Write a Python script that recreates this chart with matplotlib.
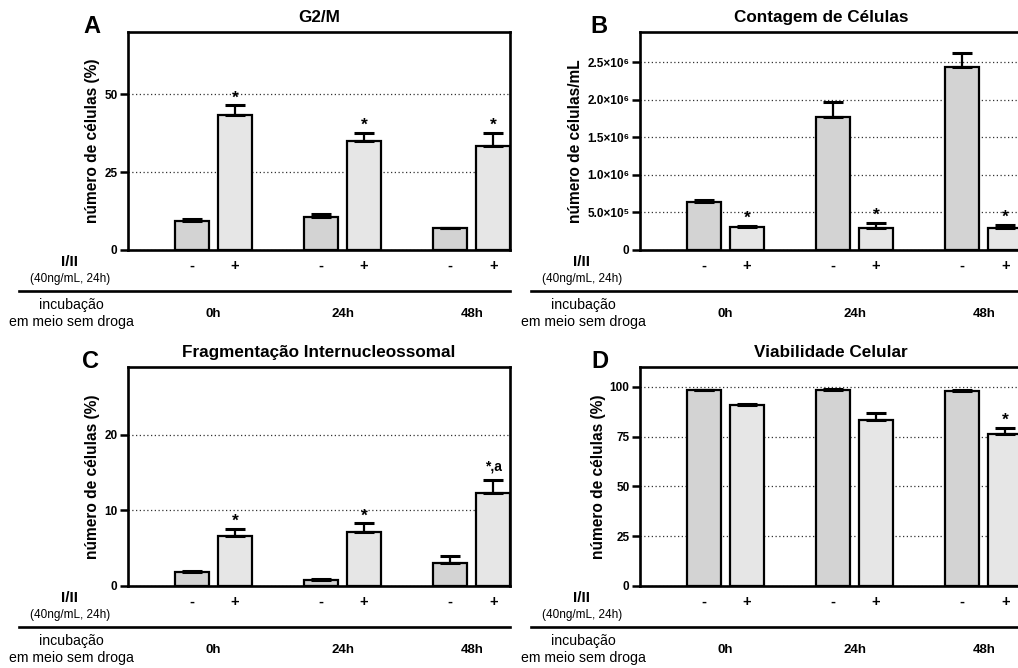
import matplotlib
matplotlib.use('Agg')
import matplotlib.pyplot as plt
import matplotlib.transforms as mtransforms

plt.rcParams['font.family'] = ['Liberation Sans', 'DejaVu Sans']

# groups and treatment labels
grupos = ['0h', '24h', '48h']
tratamento = ['-', '+']

# A - G2/M (%)
g2m_ctrl = [9.4, 10.6, 7.0]
g2m_ctrl_err = [0.6, 0.9, 0.2]
g2m_trat = [43.4, 35.0, 33.3]
g2m_trat_err = [3.0, 2.5, 4.3]
g2m_sig = ['*', '*', '*']

# B - cell count (cells/mL)
cont_ctrl = [0.634e6, 1.765e6, 2.433e6]
cont_ctrl_err = [0.035e6, 0.205e6, 0.187e6]
cont_trat = [0.306e6, 0.293e6, 0.288e6]
cont_trat_err = [0.017e6, 0.067e6, 0.042e6]
cont_sig = ['*', '*', '*']

# C - internucleosomal fragmentation (%)
frag_ctrl = [1.8, 0.85, 3.1]
frag_ctrl_err = [0.15, 0.05, 0.9]
frag_trat = [6.6, 7.2, 12.3]
frag_trat_err = [0.95, 1.1, 1.7]
frag_sig = ['*', '*', '*,a']

# D - viability (%)
viab_ctrl = [98.4, 98.6, 98.0]
viab_ctrl_err = [0.2, 0.2, 0.2]
viab_trat = [91.0, 83.4, 76.3]
viab_trat_err = [0.4, 3.3, 3.2]
viab_sig = ['', '', '*']

W, H = 1018, 668
fig = plt.figure(figsize=(W / 100, H / 100), dpi=100)


def px_axes(left, top, right, bottom):
    return fig.add_axes([left / W, 1 - bottom / H, (right - left) / W, (bottom - top) / H])


def painel(ax, letra, letra_x, titulo, ctrl, ctrl_err, trat, trat_err, sig,
           ylim, yticks, yticklabels, ylabel, title_x=0.5, tick_fs=8.5):
    xc = [3 * i for i in range(len(grupos))]
    xt = [3 * i + 1 for i in range(len(grupos))]
    ekw = dict(elinewidth=1.6, capthick=2.2, capsize=7, ecolor='black')
    ax.bar(xc, ctrl, width=0.8, color='#d3d3d3', edgecolor='black', linewidth=1.6,
           yerr=[[0] * len(ctrl), ctrl_err], error_kw=ekw, zorder=3)
    ax.bar(xt, trat, width=0.8, color='#e6e6e6', edgecolor='black', linewidth=1.6,
           yerr=[[0] * len(trat), trat_err], error_kw=ekw, zorder=3)
    for x, v, e, s in zip(xt, trat, trat_err, sig):
        if len(s) == 1:
            ax.annotate(s, xy=(x, v + e), xytext=(0, 0), textcoords='offset points',
                        ha='center', va='bottom', fontsize=12.5, fontweight='bold')
        elif s:
            ax.annotate(s, xy=(x, v + e), xytext=(0, 5), textcoords='offset points',
                        ha='center', va='bottom', fontsize=10, fontweight='bold')
    ax.set_xlim(-1.49, 7.39)
    ax.set_ylim(*ylim)
    ax.set_yticks(yticks)
    ax.set_yticklabels(yticklabels, fontweight='bold', fontsize=tick_fs)
    ax.set_xticks([])
    ax.tick_params(axis='y', length=6, width=1.8, pad=1.5, direction='out')
    for sp in ax.spines.values():
        sp.set_linewidth(1.9)
    ax.yaxis.grid(True, linestyle=(0, (1, 2)), color='#333333', linewidth=0.9)
    ax.set_axisbelow(True)
    ax.set_ylabel(ylabel, fontsize=11.2, fontweight='bold', labelpad=3)
    ax.set_title(titulo, fontsize=12.3, fontweight='bold', x=title_x, pad=7)
    ax.text(letra_x, 0.995, letra, transform=ax.transAxes, fontsize=17,
            fontweight='bold', ha='center', va='baseline')

    hpx = ax.get_position().height * H
    def fy(py):
        return -py / hpx
    trans = mtransforms.blended_transform_factory(ax.transData, ax.transAxes)
    for x in xc:
        ax.text(x, fy(16), tratamento[0], transform=trans, ha='center', va='center',
                fontsize=10.5, fontweight='bold')
    for x in xt:
        ax.text(x, fy(16), tratamento[1], transform=trans, ha='center', va='center',
                fontsize=10.5, fontweight='bold')
    for x, g in zip(xc, grupos):
        ax.text(x + 0.5, fy(64), g, transform=trans, ha='center', va='center',
                fontsize=9.5, fontweight='bold')
    ax.text(-0.152, fy(12), 'I/II', transform=ax.transAxes, ha='center', va='center',
            fontsize=11, fontweight='bold')
    ax.text(-0.152, fy(29), '(40ng/mL, 24h)', transform=ax.transAxes, ha='center',
            va='center', fontsize=8.5)
    ax.text(-0.148, fy(55), 'incubação', transform=ax.transAxes, ha='center',
            va='center', fontsize=10.2)
    ax.text(-0.148, fy(72), 'em meio sem droga', transform=ax.transAxes, ha='center',
            va='center', fontsize=10.2)
    ax.plot([-0.285, 1.0], [fy(41), fy(41)], transform=ax.transAxes, color='black',
            linewidth=1.9, clip_on=False)


axA = px_axes(128, 32, 510, 250)
axB = px_axes(640, 32, 1022, 250)
axC = px_axes(128, 367, 510, 586)
axD = px_axes(640, 367, 1022, 586)

painel(axA, 'A', -0.094, 'G2/M', g2m_ctrl, g2m_ctrl_err, g2m_trat, g2m_trat_err,
       g2m_sig, (0, 70), [0, 25, 50], ['0', '25', '50'], 'número de células (%)')
painel(axB, 'B', -0.107, 'Contagem de Células', cont_ctrl, cont_ctrl_err, cont_trat,
       cont_trat_err, cont_sig, (0, 2.9e6),
       [0, 0.5e6, 1.0e6, 1.5e6, 2.0e6, 2.5e6],
       ['0', '5.0×10⁵', '1.0×10⁶', '1.5×10⁶', '2.0×10⁶', '2.5×10⁶'],
       'número de células/mL', title_x=0.475, tick_fs=8.5)
painel(axC, 'C', -0.097, 'Fragmentação Internucleossomal', frag_ctrl, frag_ctrl_err,
       frag_trat, frag_trat_err, frag_sig, (0, 29), [0, 10, 20], ['0', '10', '20'],
       'número de células (%)')
painel(axD, 'D', -0.106, 'Viabilidade Celular', viab_ctrl, viab_ctrl_err, viab_trat,
       viab_trat_err, viab_sig, (0, 110), [0, 25, 50, 75, 100],
       ['0', '25', '50', '75', '100'], 'número de células (%)')

fig.savefig('out.png', dpi=100)
